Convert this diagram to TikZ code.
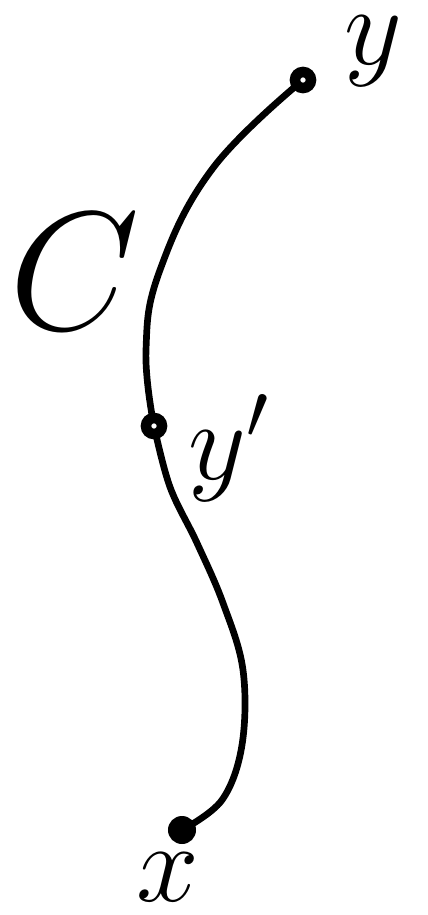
\RequirePackage{fix-cm}
\documentclass[tikz,border=0pt]{standalone}
\usepackage{tikz}
\usetikzlibrary{positioning}

\tikzset{
	curve/.style={line width=1.9pt, line cap=round, line join=round},
	opendot/.style={circle, draw, fill=white, line width=3pt, inner sep=0pt, minimum size=0.16cm},
	fulldot/.style={circle, fill, inner sep=0pt, minimum size=0.28cm},
	biglabel/.style={font=\fontsize{48}{48}\selectfont, inner sep=0pt},
	ptlabel/.style={font=\fontsize{32}{32}\selectfont, inner sep=0pt},
}

\begin{document}
\begin{tikzpicture}[x=0.01cm, y=-0.01cm]
		\useasboundingbox (0,0) rectangle (427,915);
		\coordinate (y) at (303,80);
		\coordinate (yp) at (154,426);
		\coordinate (x) at (182,830);

		% the curve C, in two pieces
		\draw [curve] plot [smooth, tension=0.7] coordinates
			{(y) (213,168) (160,270) (146,350) (yp)};
		\draw [curve] plot [smooth, tension=0.6] coordinates
			{(yp) (170,487) (197,543) (223,603) (243,670) (242,745) (222,800) (x)};

		% points on the curve
		\node (ydot) at (y) [opendot] {};
		\node (ypdot) at (yp) [opendot] {};
		\node (xdot) at (x) [fulldot] {};

		% labels
		\node (ylab) at (373,51) [ptlabel] {$y$};
		\node (yplab) at (229,448) [ptlabel] {$y'$};
		\node (xlab) at (168,877) [ptlabel] {$x$};
		\node (clab) at (75,272) [biglabel] {$C$};
	\end{tikzpicture}
\end{document}
